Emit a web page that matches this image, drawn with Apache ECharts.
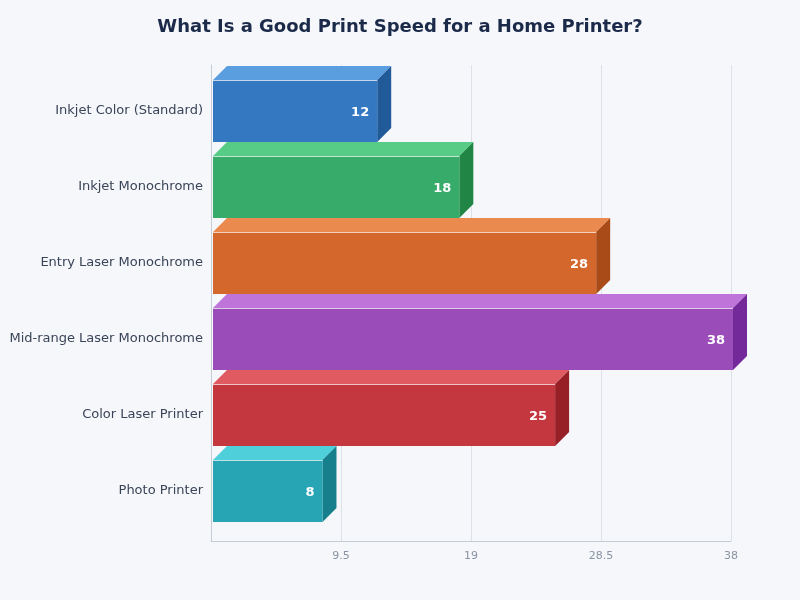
<!DOCTYPE html>
<html>
<head>
<meta charset="utf-8">
<script src="https://cdn.jsdelivr.net/npm/echarts@6/dist/echarts.min.js"></script>
<style>
html,body{margin:0;padding:0;background:#f5f7fb;}
#main{width:800px;height:600px;}
</style>
</head>
<body>
<div id="main"></div>
<script>
const categories = ['Inkjet Color (Standard)', 'Inkjet Monochrome', 'Entry Laser Monochrome', 'Mid-range Laser Monochrome', 'Color Laser Printer', 'Photo Printer'];
const speeds = [12, 18, 28, 38, 25, 8];
const frontColors = ['#3578c2', '#37ab69', '#d3672c', '#9a4cb9', '#c5373e', '#27a5b4'];
const topColors = ['#5a9ee0', '#57cc87', '#eb8a4f', '#bf74d9', '#e05a61', '#4ecfda'];
const sideColors = ['#215a99', '#218645', '#a94a19', '#74299b', '#962026', '#167f8b'];
const xMin = 0, xMax = 38, xInterval = 9.5;

const chart = echarts.init(document.getElementById('main'));
const DEPTH = 14;

function renderItem(params, api) {
  const idx = api.value(1);
  const val = api.value(0);
  const base = api.coord([0, idx]);
  const end = api.coord([val, idx]);
  const band = Math.abs(api.size([0, 1])[1]);
  const bandTop = base[1] - band / 2;
  const yTop = bandTop + DEPTH;
  const yBot = bandTop + band;
  const x0 = base[0] + 2;
  const x1 = end[0] + 2;
  const i = params.dataIndex;
  return {
    type: 'group',
    children: [
      { type: 'polygon', shape: { points: [[x0, yTop], [x1, yTop], [x1 + DEPTH, yTop - DEPTH], [x0 + DEPTH, yTop - DEPTH]] }, style: { fill: topColors[i] } },
      { type: 'polygon', shape: { points: [[x1, yTop], [x1 + DEPTH, yTop - DEPTH], [x1 + DEPTH, yBot - DEPTH], [x1, yBot]] }, style: { fill: sideColors[i] } },
      { type: 'rect', shape: { x: x0, y: yTop, width: x1 - x0, height: yBot - yTop }, style: { fill: frontColors[i] } },
      { type: 'line', shape: { x1: x0, y1: yTop + 0.5, x2: x1, y2: yTop + 0.5 }, style: { stroke: 'rgba(255,255,255,0.7)', lineWidth: 1 } },
      { type: 'text', style: { x: x1 - 8, y: (yTop + yBot) / 2 + 1.5, text: String(val), align: 'right', verticalAlign: 'middle', fill: '#ffffff', font: 'bold 13px "DejaVu Sans"' } }
    ]
  };
}

const option = {
  backgroundColor: '#f5f7fb',
  textStyle: { fontFamily: '"DejaVu Sans", sans-serif' },
  title: {
    text: 'What Is a Good Print Speed for a Home Printer?',
    left: 'center',
    top: 13,
    textStyle: { fontSize: 18, fontWeight: 'bold', color: '#1b2a49', fontFamily: '"DejaVu Sans", sans-serif' }
  },
  grid: [
    { left: 211, right: 69, top: 65, bottom: 59 },
    { left: 211, right: 69, top: 66, height: 456 }
  ],
  xAxis: [
    {
      gridIndex: 0, type: 'value', min: xMin, max: xMax, interval: xInterval,
      axisLine: { show: true, lineStyle: { color: '#c6ccd5' } },
      axisTick: { show: false },
      splitLine: { show: true, lineStyle: { color: '#dde1e8' } },
      axisLabel: { color: '#8a93a3', fontSize: 11, margin: 10, showMinLabel: false }
    },
    { gridIndex: 1, type: 'value', min: xMin, max: xMax, show: false }
  ],
  yAxis: [
    {
      gridIndex: 0, type: 'value', min: 0, max: 1,
      axisLine: { show: true, lineStyle: { color: '#c6ccd5' } },
      axisTick: { show: false }, axisLabel: { show: false }, splitLine: { show: false }
    },
    {
      gridIndex: 1, type: 'category', data: categories, inverse: true,
      axisLine: { show: false }, axisTick: { show: false }, splitLine: { show: false },
      axisLabel: { color: '#3a4457', fontSize: 13, margin: 8, verticalAlign: 'top', lineHeight: 13 }
    }
  ],
  series: [{
    type: 'custom',
    xAxisIndex: 1,
    yAxisIndex: 1,
    renderItem: renderItem,
    encode: { x: 0, y: 1 },
    data: speeds.map((v, i) => [v, i])
  }]
};
chart.setOption(option);
</script>
</body>
</html>
